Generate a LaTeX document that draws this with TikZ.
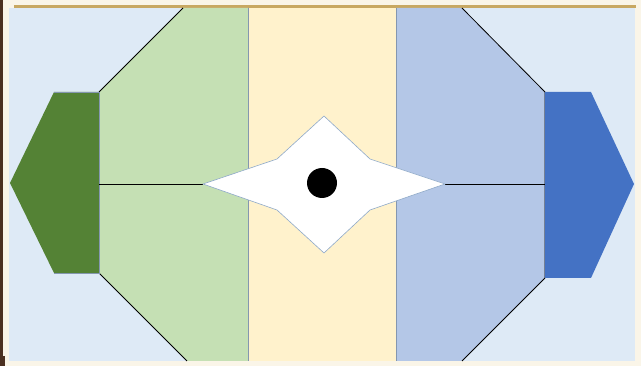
\documentclass[tikz,border=0pt]{standalone}
\definecolor{cream}{HTML}{FAF5E8}
\definecolor{brownedge}{HTML}{4B3020}
\definecolor{goldline}{HTML}{C8A862}
\definecolor{lightbg}{HTML}{DEEAF6}
\definecolor{lgreen}{HTML}{C5E0B4}
\definecolor{lyellow}{HTML}{FFF2CC}
\definecolor{lblue}{HTML}{B4C7E7}
\definecolor{dgreen}{HTML}{548235}
\definecolor{dblue}{HTML}{4472C4}
\definecolor{sepline}{HTML}{8497B0}
\definecolor{starline}{HTML}{8EA9C8}
\begin{document}
\begin{tikzpicture}[x=1pt,y=-1pt,
  outline/.style={draw=black,line width=0.8pt},
  sepstyle/.style={draw=sepline,line width=0.8pt}]
\useasboundingbox (0,0) rectangle (641,366);
\fill[cream] (0,0) rectangle (641,366);
\fill[brownedge] (0,0) rectangle (2.5,366);
\fill[brownedge] (0,356) rectangle (4.5,366);
\fill[goldline] (14,5.5) rectangle (636,7.8);
\fill[lightbg] (9,8) rectangle (635,361);
% columns
\fill[lgreen] (183,8) -- (248,8) -- (248,361) -- (187,361) -- (99,273) -- (99,92) -- cycle;
\fill[lyellow] (248,8) rectangle (396,361);
\fill[lblue] (396,8) -- (462,8) -- (545,92) -- (545,278) -- (462,361) -- (396,361) -- cycle;
\draw[sepstyle] (248,8) -- (248,361);
\draw[sepstyle] (396,8) -- (396,361);
% octagon edges
\draw[outline] (183,8) -- (99,92);
\draw[outline] (99,273) -- (187,361);
\draw[outline] (462,8) -- (545,92) -- (545,278) -- (462,361);
% hexagons
\fill[dgreen] (99,92) -- (54,92) -- (10,183) -- (54,273) -- (99,273) -- cycle;
\draw[sepstyle,line width=0.6pt] (54,92) -- (99,92) -- (99,273) -- (54,273);
\fill[dblue] (545,92) -- (591,92) -- (634,184) -- (591,278) -- (545,278) -- cycle;
% star
\coordinate (L) at (203,184);
\coordinate (R) at (445,184);
\draw[outline] (99,184) -- (L);
\draw[outline] (R) -- (545,184);
\draw[fill=white,draw=starline,line width=0.6pt] (L) -- (277,159) -- (324,116) -- (370,159) -- (R) -- (370,210) -- (324,253) -- (277,210) -- cycle;
\fill[black] (322,183) circle (15);
\end{tikzpicture}
\end{document}
